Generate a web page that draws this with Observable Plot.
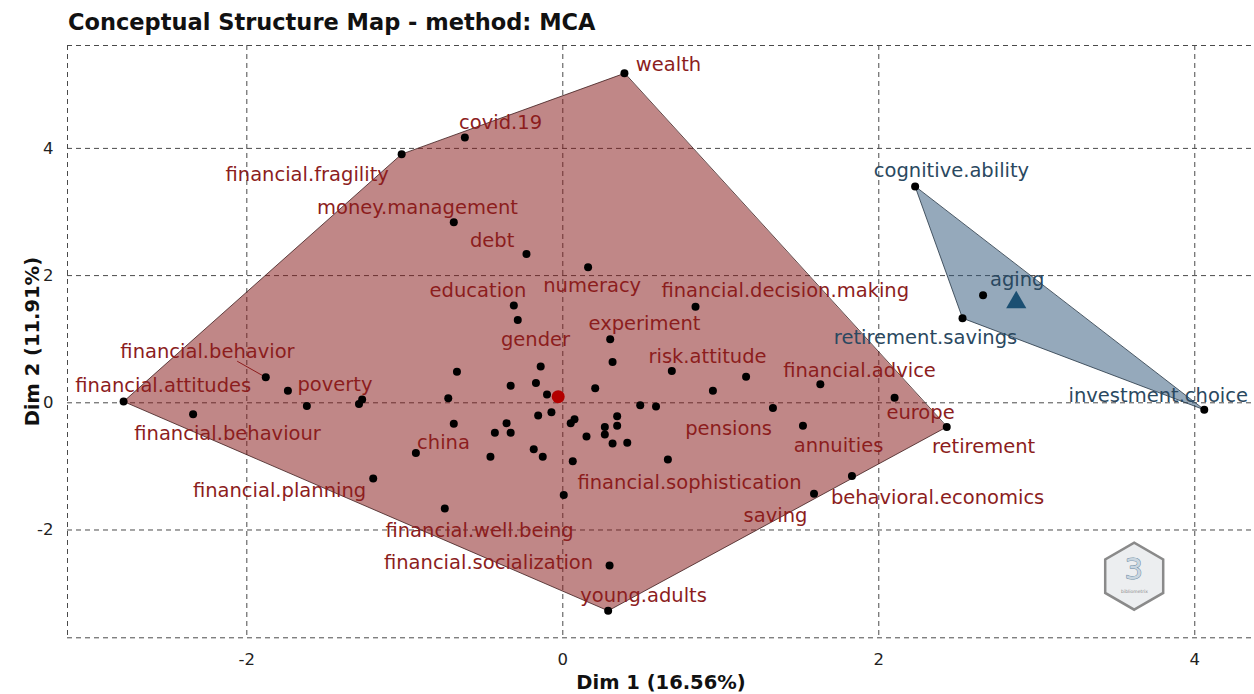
<!DOCTYPE html>
<html><head><meta charset="utf-8">
<script src="https://cdn.jsdelivr.net/npm/d3@7"></script>
<script src="https://cdn.jsdelivr.net/npm/@observablehq/plot@0.6"></script>
<style>
html,body{margin:0;padding:0;background:#fff;}
#wrap{position:relative;width:1254px;height:694px;overflow:hidden;}
#chart{position:absolute;left:0;top:0;}
#title{position:absolute;left:68px;top:11px;font-family:"DejaVu Sans";font-weight:bold;font-size:22.5px;line-height:1;color:#111;white-space:nowrap;}
</style></head><body>
<div id="wrap"><div id="chart"></div><div id="title">Conceptual Structure Map - method: MCA</div></div>
<script>
// ---- data ----
const xTicks = [-2, 0, 2, 4];
const yTicks = [-2, 0, 2, 4];
const xLabel = "Dim 1 (16.56%)";
const yLabel = "Dim 2 (11.91%)";

// cluster 1 (red) word coordinates
const redX = [0.39,-0.62,-1.02,-0.69,-0.23,0.16,-0.31,-0.285,0.84,0.30,0.315,0.69,1.16,0.95,1.63,2.10,2.43,-0.67,-0.14,-0.33,-0.17,-0.725,-0.10,0.205,0.49,0.59,-0.156,-0.072,-0.69,-0.356,-0.43,-0.33,0.05,0.074,0.15,0.266,0.344,0.344,0.266,0.315,0.408,-0.93,-0.458,-0.184,-0.127,0.063,0.665,0.006,-0.747,0.296,0.287,1.33,1.52,1.83,1.59,-2.78,-2.34,-1.88,-1.74,-1.62,-1.27,-1.29,-1.20];
const redY = [5.18,4.17,3.91,2.84,2.34,2.13,1.53,1.30,1.51,1.00,0.64,0.50,0.41,0.19,0.29,0.08,-0.38,0.49,0.57,0.27,0.31,0.07,0.13,0.23,-0.04,-0.06,-0.20,-0.15,-0.33,-0.32,-0.47,-0.47,-0.32,-0.26,-0.53,-0.38,-0.21,-0.36,-0.50,-0.64,-0.63,-0.79,-0.85,-0.73,-0.85,-0.92,-0.89,-1.45,-1.66,-2.56,-3.27,-0.08,-0.36,-1.15,-1.43,0.02,-0.18,0.40,0.19,-0.05,0.05,-0.02,-1.19];

// cluster 2 (blue) word coordinates
const blueX = [2.23, 2.66, 2.53, 4.06];
const blueY = [3.40, 1.69, 1.33, -0.11];

// word labels (placed where the repelled labels sit) and their cluster
const labelText = ["wealth","covid.19","financial.fragility","money.management","debt","education","numeracy","financial.decision.making","experiment","gender","risk.attitude","financial.advice","europe","pensions","annuities","retirement","financial.sophistication","behavioral.economics","saving","young.adults","financial.socialization","financial.well.being","china","financial.planning","financial.behaviour","financial.attitudes","financial.behavior","poverty","cognitive.ability","aging","retirement.savings","investment.choice"];
const labelX = [0.669,-0.394,-1.618,-0.920,-0.447,-0.537,0.186,1.408,0.517,-0.173,0.916,1.878,2.264,1.049,1.745,2.663,0.802,2.372,1.346,0.511,-0.470,-0.527,-0.755,-1.793,-2.122,-2.529,-2.249,-1.442,2.460,2.876,2.296,3.769];
const labelY = [5.311,4.407,3.590,3.071,2.552,1.758,1.836,1.758,1.247,0.995,0.728,0.500,-0.153,-0.404,-0.679,-0.687,-1.253,-1.489,-1.780,-3.038,-2.511,-2.016,-0.624,-1.379,-0.484,0.264,0.807,0.288,3.653,1.939,1.027,0.107];
const labelCluster = [1,1,1,1,1,1,1,1,1,1,1,1,1,1,1,1,1,1,1,1,1,1,1,1,1,1,1,1,2,2,2,2];

// leader segment for "financial.behavior"
const leaderFrom = [-2.061, 0.654];
const leaderTo = [-1.88, 0.40];

// ---- build tables ----
const red = redX.map((x, i) => ({x, y: redY[i]}));
const blue = blueX.map((x, i) => ({x, y: blueY[i]}));
const labels = labelText.map((t, i) => ({text: t, x: labelX[i], y: labelY[i], cluster: labelCluster[i]}));
const hull = pts => d3.polygonHull(pts.map(d => [d.x, d.y])).map(([x, y]) => ({x, y}));
const redHull = hull(red), blueHull = hull(blue);
const centroid = pts => ({x: d3.mean(pts, d => d.x), y: d3.mean(pts, d => d.y)});
const redC = centroid(red), blueC = centroid(blue);

const xDom = [-3.135, 4.378], yDom = [-3.695, 5.618];
const dash = "5,4", gridCol = "#4a4a4a";
const redCol = "#8c1d1d", blueCol = "#2a4860";
const FONT = "DejaVu Sans";
const fmt = d => String(d);

const chart = Plot.plot({
  width: 1254, height: 694,
  marginTop: 45, marginBottom: 56.7, marginLeft: 67, marginRight: 0,
  style: {fontFamily: FONT, background: "#fff", color: "#222"},
  x: {domain: xDom},
  y: {domain: yDom},
  marks: [
    Plot.gridX(xTicks, {stroke: gridCol, strokeOpacity: 1, strokeDasharray: dash}),
    Plot.gridY(yTicks, {stroke: gridCol, strokeOpacity: 1, strokeDasharray: dash}),
    Plot.ruleX([xDom[0]], {stroke: gridCol, strokeDasharray: dash}),
    Plot.ruleY(yDom, {stroke: gridCol, strokeDasharray: dash}),
    Plot.line(redHull, {x: "x", y: "y", curve: "linear-closed", fill: "#861818", fillOpacity: 0.52, stroke: "#3d1c1c", strokeWidth: 0.8}),
    Plot.line(blueHull, {x: "x", y: "y", curve: "linear-closed", fill: "#2c5478", fillOpacity: 0.5, stroke: "#233342", strokeWidth: 0.8}),
    Plot.link([0], {x1: () => leaderFrom[0], y1: () => leaderFrom[1], x2: () => leaderTo[0], y2: () => leaderTo[1], stroke: redCol, strokeWidth: 1}),
    Plot.dot(red, {x: "x", y: "y", r: 4, fill: "#000"}),
    Plot.dot(blue, {x: "x", y: "y", r: 4, fill: "#000"}),
    Plot.dot([redC], {x: "x", y: "y", r: 6.5, fill: "#b30000"}),
    Plot.dot([blueC], {x: "x", y: "y", r: 7.5, symbol: "triangle", fill: "#1b4f72"}),
    Plot.text(labels, {x: "x", y: "y", text: "text", fill: d => d.cluster === 1 ? redCol : blueCol, fontSize: 19.5, textAnchor: "middle", lineAnchor: "middle"}),
    // logo
    Plot.dot([0], {frameAnchor: "bottom-right", dx: -120.3, dy: -61.6, r: 29, symbol: "hexagon", fill: "#eceef0", stroke: "#8a8a8a", strokeWidth: 2.5}),
    Plot.text(["3"], {frameAnchor: "bottom-right", dx: -120.7, dy: -68, text: d => d, textAnchor: "middle", lineAnchor: "middle", fontSize: 29, fill: "#c9d6e0", stroke: "#6e8ca3", strokeWidth: 1}),
    Plot.text(["bibliometrix"], {frameAnchor: "bottom-right", dx: -120, dy: -46, text: d => d, textAnchor: "middle", lineAnchor: "middle", fontSize: 4.5, fill: "#888"}),
    // axes
    Plot.axisX(xTicks, {tickSize: 0, tickPadding: 15, fontSize: 16.5, tickFormat: fmt, label: null, fill: "#222"}),
    Plot.axisY(yTicks, {tickSize: 0, tickPadding: 14, fontSize: 16.5, tickFormat: fmt, label: null, fill: "#222"}),
    Plot.text([xLabel], {frameAnchor: "bottom", dy: 44.7, text: d => d, textAnchor: "middle", lineAnchor: "middle", fontSize: 19.5, fontWeight: "bold", fill: "#111"}),
    Plot.text([yLabel], {frameAnchor: "left", dx: -35, rotate: -90, text: d => d, textAnchor: "middle", lineAnchor: "middle", fontSize: 19.5, fontWeight: "bold", fill: "#111"})
  ]
});
document.getElementById("chart").appendChild(chart);
</script>
</body></html>
